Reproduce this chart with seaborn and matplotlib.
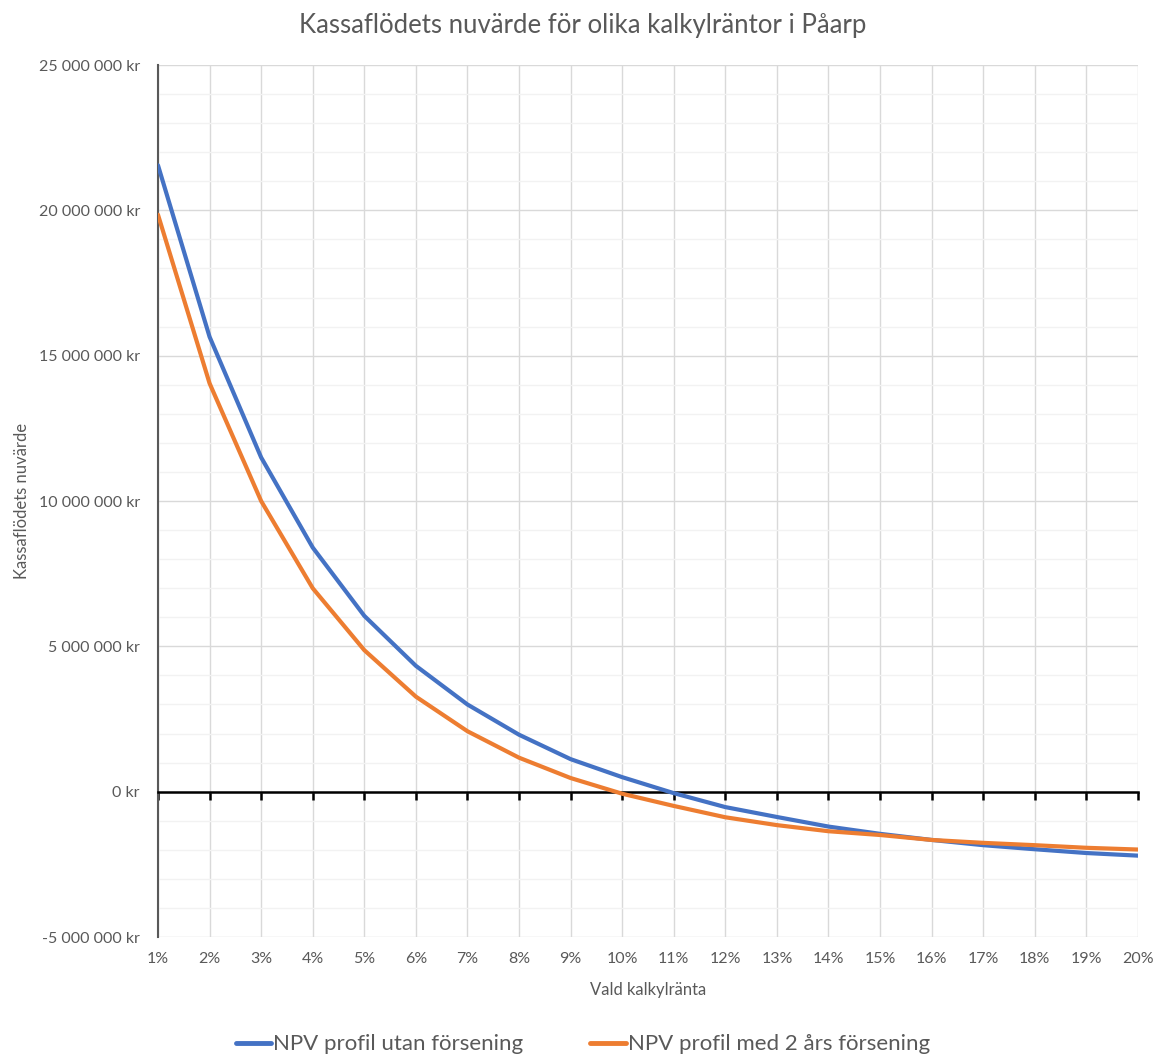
import matplotlib
matplotlib.use("Agg")
import matplotlib.pyplot as plt
from matplotlib.ticker import FuncFormatter, MultipleLocator
from matplotlib.lines import Line2D
import seaborn as sns
import pandas as pd

# ---- data ----
rates = list(range(1, 21))  # kalkylränta in percent
rate_labels = [f"{r}%" for r in rates]
npv_utan = [21.55, 15.65, 11.5, 8.4, 6.05, 4.33, 3.0, 1.96, 1.12, 0.5,
            -0.05, -0.53, -0.87, -1.2, -1.45, -1.66, -1.84, -1.98, -2.11, -2.2]  # MSEK
npv_med = [19.85, 14.05, 10.0, 7.0, 4.87, 3.27, 2.08, 1.17, 0.47, -0.07,
           -0.49, -0.88, -1.15, -1.36, -1.49, -1.66, -1.76, -1.84, -1.93, -1.99]  # MSEK
series_names = ["NPV profil utan försening", "NPV profil med 2 års försening"]
colors = ["#4472C4", "#ED7D31"]
y_ticks = [-5e6, 0, 5e6, 10e6, 15e6, 20e6, 25e6]

df = pd.DataFrame({
    "rate": rates * 2,
    "value": [v * 1e6 for v in npv_utan] + [v * 1e6 for v in npv_med],
    "series": [series_names[0]] * len(rates) + [series_names[1]] * len(rates),
})

sns.set_theme(style="white")
plt.rcParams["font.family"] = ["Lato", "DejaVu Sans"]
txt = "#595959"

fig = plt.figure(figsize=(11.54, 10.57), dpi=100)
ax = fig.add_axes([0.1369, 0.1135, 0.8492, 0.825])

sns.lineplot(data=df, x="rate", y="value", hue="series", hue_order=series_names,
             palette=colors, linewidth=3.0, ax=ax, legend=False, zorder=5)

ax.set_xlim(1, 20)
ax.set_ylim(-5e6, 25e6)
ax.set_yticks(y_ticks)
ax.yaxis.set_minor_locator(MultipleLocator(1e6))
ax.yaxis.set_major_formatter(FuncFormatter(lambda v, p: f"{int(round(v)):,}".replace(",", " ") + " kr"))
ax.set_xticks(rates)

ax.grid(which="major", axis="both", color="#d9d9d9", linewidth=1.0, zorder=0)
ax.grid(which="minor", axis="y", color="#f2f2f2", linewidth=1.0, zorder=0)
ax.set_axisbelow(True)

for s in ["top", "right"]:
    ax.spines[s].set_visible(False)
ax.spines["left"].set_color("#595959")
ax.spines["left"].set_linewidth(1.5)
ax.spines["bottom"].set_position(("data", 0))
ax.spines["bottom"].set_color("black")
ax.spines["bottom"].set_linewidth(1.8)
ax.spines["bottom"].set_zorder(4)
ax.tick_params(axis="x", which="major", direction="out", length=6, width=1.8,
               color="black", labelbottom=False, bottom=True)
ax.tick_params(axis="y", which="both", length=0, labelsize=11.5, labelcolor=txt, pad=13)

sec = ax.secondary_xaxis("bottom")
sec.set_xticks(rates)
sec.set_xticklabels(rate_labels)
sec.tick_params(length=0, labelsize=11.5, labelcolor=txt, pad=11)
sec.spines["bottom"].set_visible(False)
sec.set_xlabel("Vald kalkylränta", fontsize=12, color=txt, labelpad=11)

ax.set_xlabel("")
ax.set_ylabel("Kassaflödets nuvärde", fontsize=12, color=txt, labelpad=6)

fig.suptitle("Kassaflödets nuvärde för olika kalkylräntor i Påarp",
             x=0.505, y=0.976, va="center", fontsize=18.5, color=txt)

handles = [Line2D([0], [0], color=c, linewidth=3.5) for c in colors]
fig.legend(handles, series_names, loc="center", bbox_to_anchor=(0.505, 0.012),
           ncol=2, frameon=False, fontsize=16, labelcolor=txt,
           handlelength=1.6, handletextpad=0.1, columnspacing=3.0)

fig.savefig("out.png", dpi=100, facecolor="white")
